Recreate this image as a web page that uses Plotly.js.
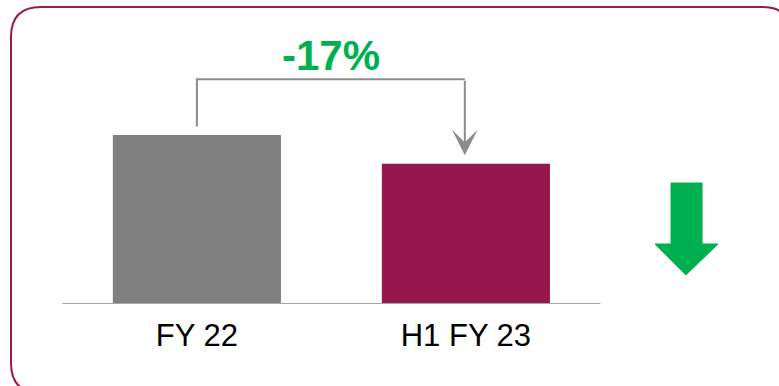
<!DOCTYPE html>
<html>
<head>
<meta charset="utf-8">
<script src="https://cdn.plot.ly/plotly-3.0.1.min.js"></script>
<style>html,body{margin:0;padding:0;background:#fff;}#chart{width:779px;height:386px;}</style>
</head>
<body>
<div id="chart"></div>
<script>
var categories = ["FY 22", "H1 FY 23"];
var values = [100, 83];
var barColors = ["#808080", "#95174D"];

var xs = categories.map(function (c, i) { return i; });
var change = Math.round((values[1] / values[0] - 1) * 100);
var changeLabel = (change > 0 ? "+" : "") + change + "%";

var vmax = Math.max.apply(null, values);
var gap = 5;
var topY = vmax * 1.33;

// decoration helpers: pixel -> paper (plot area is y 0..304 px, x 0..779 px)
var W = 779, PH = 304;
function P(x, y) { return (x / W).toFixed(4) + "," + ((PH - y) / PH).toFixed(4); }
function pathOf(cmds) {
  return cmds.map(function (c) {
    var s = c[0];
    for (var i = 1; i < c.length; i += 2) s += " " + P(c[i], c[i + 1]);
    return s;
  }).join(" ");
}

var borderPath = pathOf([
  ["M", 11, 363], ["L", 11, 37], ["Q", 11, 7, 41, 7], ["L", 762, 7],
  ["Q", 792, 7, 792, 37], ["L", 792, 393], ["L", 41, 393], ["Q", 11, 393, 11, 363]
]);
var greenArrowPath = pathOf([
  ["M", 671, 183], ["L", 702, 183], ["L", 702, 244], ["L", 718, 244],
  ["L", 686, 275], ["L", 655, 244], ["L", 671, 244]
]) + " Z";

var trace = {
  type: "bar",
  x: xs,
  y: values,
  width: 0.625,
  marker: { color: barColors },
  hoverinfo: "skip"
};

var layout = {
  width: 779,
  height: 386,
  margin: { l: 0, r: 0, t: 0, b: 82 },
  paper_bgcolor: "#ffffff",
  plot_bgcolor: "rgba(0,0,0,0)",
  showlegend: false,
  xaxis: {
    range: [-0.732, 2.164],
    tickvals: xs,
    ticktext: categories,
    showgrid: false,
    zeroline: false,
    showline: false,
    ticks: "",
    tickfont: { family: "Liberation Sans, Arial, sans-serif", size: 31, color: "#000000" },
    ticklabelstandoff: 10
  },
  yaxis: {
    range: [0, 304 / 1.69],
    visible: false,
    showgrid: false,
    zeroline: false
  },
  shapes: [
    { type: "line", xref: "x", yref: "y", x0: -0.5, x1: 1.5, y0: 0, y1: 0,
      line: { color: "#A6A6A6", width: 2 } },
    { type: "path", xref: "x", yref: "y",
      path: "M " + xs[0] + "," + (values[0] + gap) + " L " + xs[0] + "," + topY + " L " + (xs[1] - 0.004) + "," + topY,
      line: { color: "#8C8C8C", width: 2 } },
    { type: "path", xref: "paper", yref: "paper", path: borderPath,
      line: { color: "#9B1B50", width: 2 } },
    { type: "path", xref: "paper", yref: "paper", path: greenArrowPath,
      fillcolor: "#00B050", line: { color: "#00B050", width: 1 } }
  ],
  annotations: [
    { x: xs[1] - 0.004, y: values[1] + gap, xref: "x", yref: "y",
      ax: xs[1] - 0.004, ay: topY, axref: "x", ayref: "y",
      showarrow: true, arrowhead: 3, arrowsize: 2.15, arrowwidth: 2, arrowcolor: "#8C8C8C", text: "" },
    { x: (xs[0] + xs[1]) / 2, y: topY + 14, xref: "x", yref: "y",
      text: "<b>" + changeLabel + "</b>", showarrow: false, yanchor: "middle",
      font: { family: "Liberation Sans, Arial, sans-serif", size: 42, color: "#00B050" } }
  ]
};

Plotly.newPlot("chart", [trace], layout, { staticPlot: true, displayModeBar: false });
</script>
</body>
</html>
